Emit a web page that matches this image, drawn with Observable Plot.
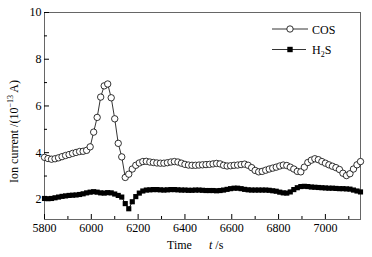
<!DOCTYPE html>
<html><head><meta charset="utf-8">
<script src="https://cdn.jsdelivr.net/npm/d3@7"></script>
<script src="https://cdn.jsdelivr.net/npm/@observablehq/plot@0.6"></script>
<style>body{margin:0;background:#fff} svg{display:block}</style>
</head><body><div id="chart"></div>
<script>
const times = [5800,5815,5830,5845,5860,5875,5890,5905,5920,5935,
  5950,5965,5980,5995,6010,6025,6040,6055,6070,6085,
  6100,6115,6130,6145,6160,6175,6190,6205,6220,6235,
  6250,6265,6280,6295,6310,6325,6340,6355,6370,6385,
  6400,6415,6430,6445,6460,6475,6490,6505,6520,6535,
  6550,6565,6580,6595,6610,6625,6640,6655,6670,6685,
  6700,6715,6730,6745,6760,6775,6790,6805,6820,6835,
  6850,6865,6880,6895,6910,6925,6940,6955,6970,6985,
  7000,7015,7030,7045,7060,7075,7090,7105,7120,7135,
  7150];
const cosValues = [3.80,3.75,3.72,3.74,3.78,3.83,3.88,3.92,3.97,4.01,
  4.05,4.06,4.10,4.25,4.88,5.51,6.38,6.86,6.94,6.35,
  5.45,4.40,3.82,2.94,3.08,3.30,3.46,3.56,3.62,3.63,
  3.60,3.58,3.56,3.55,3.55,3.57,3.60,3.62,3.60,3.55,
  3.50,3.47,3.46,3.46,3.47,3.48,3.49,3.50,3.52,3.54,
  3.52,3.46,3.43,3.44,3.46,3.47,3.49,3.51,3.46,3.36,
  3.24,3.18,3.20,3.25,3.30,3.34,3.38,3.43,3.47,3.45,
  3.38,3.30,3.20,3.18,3.38,3.58,3.68,3.74,3.70,3.62,
  3.55,3.48,3.42,3.36,3.28,3.12,3.02,3.10,3.30,3.48,
  3.62];
const h2sValues = [2.04,2.03,2.04,2.07,2.10,2.13,2.15,2.17,2.18,2.19,
  2.21,2.24,2.28,2.31,2.33,2.31,2.28,2.27,2.29,2.28,
  2.23,2.17,2.10,1.82,1.60,1.90,2.12,2.27,2.36,2.40,
  2.41,2.42,2.42,2.41,2.40,2.41,2.42,2.42,2.41,2.40,
  2.40,2.39,2.39,2.40,2.40,2.39,2.38,2.38,2.38,2.37,
  2.38,2.40,2.43,2.46,2.48,2.48,2.46,2.43,2.41,2.40,
  2.40,2.40,2.40,2.40,2.39,2.37,2.35,2.31,2.28,2.27,
  2.32,2.42,2.50,2.55,2.56,2.55,2.53,2.52,2.51,2.50,
  2.49,2.48,2.48,2.47,2.46,2.46,2.45,2.44,2.40,2.36,
  2.32];
const xTicks = [5800,6000,6200,6400,6600,6800,7000];
const xMinorTicks = [5900,6100,6300,6500,6700,6900,7100];
const yTicks = [2,4,6,8,10];
const yMinorTicks = [3,5,7,9];

const W = 372, H = 257, ml = 44, mr = 12, mt = 12, mb = 38;
const pw = W - ml - mr, ph = H - mt - mb;
const cos = times.map((t, i) => ({t, v: cosValues[i]}));
const h2s = times.map((t, i) => ({t, v: h2sValues[i]}));
const ff = "'Liberation Serif', 'Times New Roman', serif";

const plot = Plot.plot({
  width: W, height: H,
  marginLeft: ml, marginRight: mr, marginTop: mt, marginBottom: mb,
  style: {fontFamily: ff, fontSize: "12px", color: "#000", background: "#fff"},
  x: {domain: [5800, 7150]},
  y: {domain: [1.14, 10]},
  marks: [
    Plot.frame({stroke: "#666", strokeWidth: 1}),
    Plot.axisX(xTicks, {tickSize: 0, tickPadding: 4, label: null, fontSize: 12, tickFormat: d3.format("d")}),
    Plot.axisY(yTicks, {tickSize: 0, tickPadding: 3, label: null, fontSize: 12, tickFormat: d3.format("d")}),
    Plot.tickX(xTicks, {x: d => d, insetTop: ph - 5, stroke: "#000"}),
    Plot.tickX(xMinorTicks, {x: d => d, insetTop: ph - 3, stroke: "#000"}),
    Plot.tickY(yTicks, {y: d => d, insetRight: pw - 5, stroke: "#000"}),
    Plot.tickY(yMinorTicks, {y: d => d, insetRight: pw - 3, stroke: "#000"}),
    Plot.line(h2s, {x: "t", y: "v", stroke: "#000", strokeWidth: 1}),
    Plot.dot(h2s, {x: "t", y: "v", symbol: "square", r: 2.9, fill: "#000", stroke: "none"}),
    Plot.line(cos, {x: "t", y: "v", stroke: "#000", strokeWidth: 0.8}),
    Plot.dot(cos, {x: "t", y: "v", symbol: "circle", r: 3.2, fill: "#fff", stroke: "#000", strokeWidth: 0.8})
  ]
});

const svg = d3.select(plot);
// Legend
const lg = svg.append("g").attr("font-family", ff).attr("font-size", 12).attr("fill", "#000").attr("text-anchor", "start");
lg.append("line").attr("x1", 272).attr("x2", 308).attr("y1", 29).attr("y2", 29).attr("stroke", "#000").attr("stroke-width", 0.8);
lg.append("circle").attr("cx", 290).attr("cy", 29).attr("r", 3.2).attr("fill", "#fff").attr("stroke", "#000").attr("stroke-width", 0.8);
lg.append("text").attr("x", 312).attr("y", 33.5).text("COS");
lg.append("line").attr("x1", 272).attr("x2", 306).attr("y1", 49.5).attr("y2", 49.5).attr("stroke", "#000").attr("stroke-width", 0.8);
lg.append("rect").attr("x", 287.3).attr("y", 46.8).attr("width", 5.4).attr("height", 5.4).attr("fill", "#000");
const h2sText = lg.append("text").attr("x", 312).attr("y", 54);
h2sText.append("tspan").text("H");
h2sText.append("tspan").attr("font-size", 8).attr("dy", 2.5).text("2");
h2sText.append("tspan").attr("dy", -2.5).text("S");

// Axis titles
const xt = svg.append("text").attr("font-family", ff).attr("font-size", 12).attr("fill", "#000")
  .attr("text-anchor", "start").attr("x", 167).attr("y", 249);
xt.append("tspan").text("Time");
xt.append("tspan").attr("x", 209).attr("font-style", "italic").text("t");
xt.append("tspan").text(" /s");

const yt = svg.append("text").attr("font-family", ff).attr("font-size", 12).attr("fill", "#000")
  .attr("text-anchor", "middle").attr("transform", "translate(17.5,131.5) rotate(-90)");
yt.append("tspan").text("Ion current /(10");
yt.append("tspan").attr("font-size", 8).attr("dy", -5).text("−13");
yt.append("tspan").attr("dy", 5).text(" A)");

document.getElementById("chart").appendChild(plot);
</script>
</body></html>
